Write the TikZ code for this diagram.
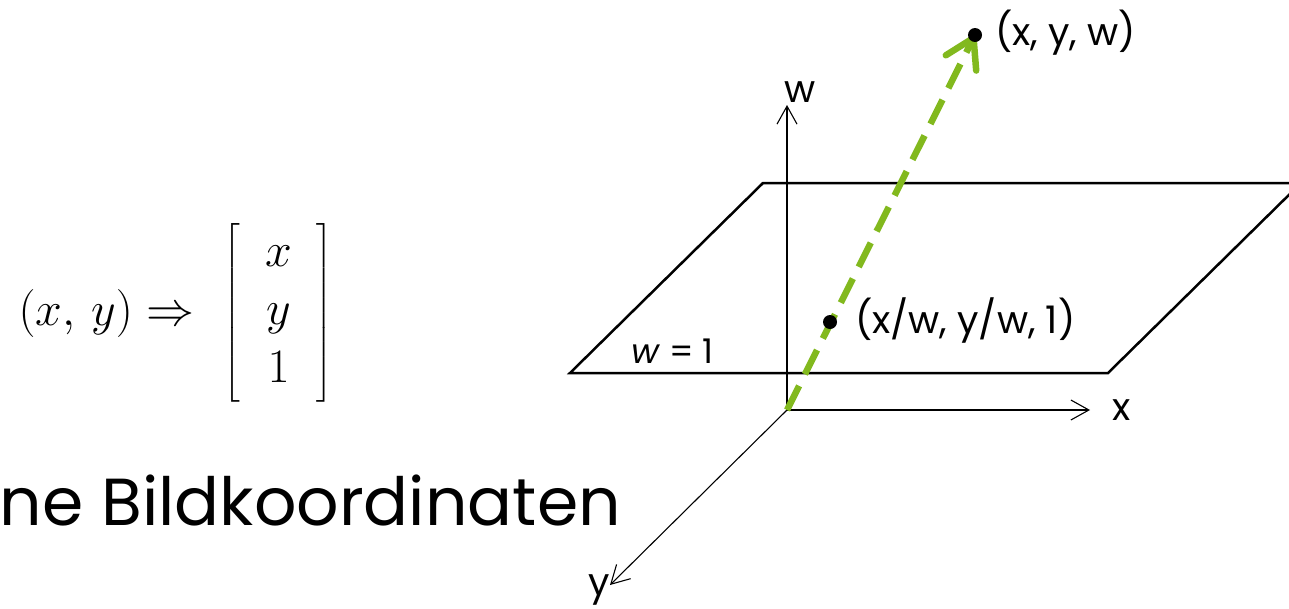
\RequirePackage{fix-cm}
\documentclass[tikz,border=0pt]{standalone}
\usepackage{amsmath}
\usepackage[no-math]{fontspec}
\setmainfont{Poppins}
\usetikzlibrary{arrows.meta}
\definecolor{vecgreen}{RGB}{130,185,30}

\begin{document}
\begin{tikzpicture}[
    x=1pt, y=-1pt,
    axis/.style={
        line width=1.1pt,
        -{Straight Barb[length=18pt,width=20pt]}
    },
    plane/.style={
        line width=2.5pt,
        line join=miter
    },
    vec/.style={
        draw=vecgreen,
        line width=6.5pt,
        dash pattern=on 27pt off 13pt,
        -{Straight Barb[length=28pt,width=34pt,round]}
    },
    dot/.style={
        circle,
        fill=black,
        inner sep=0pt,
        minimum size=14pt
    },
    lbl/.style={
        font=\fontsize{38}{44}\selectfont,
        inner sep=0pt
    }
]
\useasboundingbox (0,0) rectangle (1289,608);
\clip (0,0) rectangle (1289,608);

% formula and title
\node[font=\fontsize{48}{57.6}\selectfont, inner sep=0pt] (formula) at (176,313)
{$(x,\, y) \Rightarrow\hspace{16pt} \left[\hspace{20pt}\begin{array}{c} x\\ y\\ 1 \end{array}\hspace{20pt}\right]$};
\node[font=\fontsize{66.5}{74}\selectfont, inner sep=0pt, anchor=base east] (title) at (621,525) {ne Bildkoordinaten};

% axes
\coordinate (origin) at (787,410);
\coordinate (wtip) at (787,105);
\coordinate (xtip) at (1090,410);
\coordinate (ytip) at (610,585);

% plane w = 1
\coordinate (p1) at (570,373);
\coordinate (p2) at (1108,373);
\coordinate (p3) at (1301,183);
\coordinate (p4) at (763,183);
\draw[plane] (p1) -- (p2) -- (p3) -- (p4) -- cycle;
\node[lbl, font=\fontsize{34}{40}\selectfont, anchor=base west] (planelabel) at (631,363) {\textit{w} = 1};

\draw[axis] (origin) -- (wtip);
\draw[axis] (origin) -- (xtip);
\draw[axis] (origin) -- (ytip);
\node[lbl] (wlabel) at (800,92) {w};
\node[lbl] (xlabel) at (1122,410) {x};
\node[lbl] (ylabel) at (599,590) {y};

% homogeneous vector
\coordinate (pt) at (975,35);
\coordinate (proj) at (830,322);
\draw[vec] (origin) -- (pt);
\node[dot] (ptdot) at (pt) {};
\node[dot] (projdot) at (proj) {};
\node[lbl, anchor=west] (ptlabel) at (995,33) {(x, y, w)};
\node[lbl, anchor=west] (projlabel) at (855,320) {(x/w, y/w, 1)};
\end{tikzpicture}
\end{document}
